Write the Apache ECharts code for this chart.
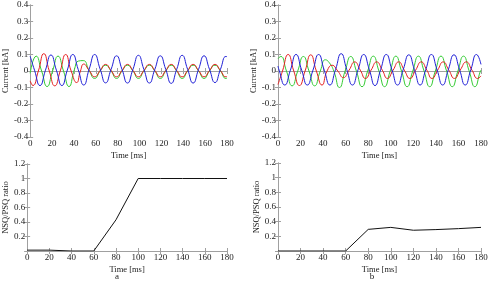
<!DOCTYPE html>
<html>
<head>
<meta charset="utf-8">
<script src="https://cdn.jsdelivr.net/npm/echarts@6/dist/echarts.min.js"></script>
<style>
html, body { margin: 0; padding: 0; background: #fff; }
#chart { width: 491px; height: 281px; }
</style>
</head>
<body>
<div id="chart"></div>
<script>
// phase currents [time ms, kA], case a
var blueA = [[0,0.09],[4,0.005],[9,-0.088],[14,0.005],[19,0.097],[24,0.005],[29,-0.088],[34,0.006],[39,0.1],[44,0.008],[49,-0.085],[54,0.012],[59,0.1],[64,0.012],[69,-0.072],[74,0.01],[79,0.092],[84,0.01],[89,-0.073],[94,0.01],[99,0.095],[104,0.01],[109,-0.073],[114,0.01],[119,0.092],[124,0.01],[129,-0.075],[134,0.01],[139,0.095],[144,0.01],[149,-0.073],[154,0.01],[159,0.092],[164,0.01],[169,-0.07],[174,0.01],[179,0.088],[180,0.087]];
var redA = [[0,-0.06],[2.5,-0.088],[7.5,0],[12.5,0.105],[17.5,0],[22.5,-0.09],[27.5,0],[32.5,0.1],[37.5,0],[42.5,-0.07],[46,0],[49,0.042],[54,0.003],[59,-0.035],[64,0.003],[69,0.04],[74,0.003],[79,-0.035],[84,0.003],[89,0.04],[94,0.003],[99,-0.035],[104,0.003],[109,0.04],[114,0.003],[119,-0.035],[124,0.003],[129,0.04],[134,0.003],[139,-0.035],[144,0.003],[149,0.04],[154,0.003],[159,-0.035],[164,0.003],[169,0.04],[174,0.003],[179,-0.035],[180,-0.034]];
var greenA = [[0,-0.014],[5.5,0.09],[10.5,0],[15.5,-0.094],[20.5,0],[25.5,0.09],[30.5,0],[35.5,-0.094],[40.5,0.01],[44,0.06],[48.5,0.063],[54,0.002],[59,-0.045],[64,0],[69,0.035],[74,0],[79,-0.045],[84,0],[89,0.035],[94,0],[99,-0.045],[104,0],[109,0.035],[114,0],[119,-0.045],[124,0],[129,0.035],[134,0],[139,-0.045],[144,0],[149,0.035],[154,0],[159,-0.045],[164,0],[169,0.035],[174,0],[179,-0.045],[180,-0.044]];

// case b
var blueB = [[0,0.03],[1,0.005],[6,-0.085],[11,0.005],[16,0.1],[21,0.005],[26,-0.085],[31,0.005],[36,0.1],[41,0.005],[46,-0.085],[51,0.008],[56,0.105],[61,0.008],[66,-0.085],[71,0.008],[76,0.1],[81,0.008],[86,-0.088],[91,0.008],[96,0.1],[101,0.008],[106,-0.085],[111,0.008],[116,0.098],[121,0.008],[126,-0.085],[131,0.008],[136,0.1],[141,0.008],[146,-0.085],[151,0.008],[156,0.098],[161,0.008],[166,-0.085],[171,0.008],[176,0.1],[180,0.04]];
var redB = [[0,-0.082],[4,0],[9,0.1],[14,0],[19,-0.088],[24,0],[29,0.098],[34,0],[39,-0.085],[43.5,0],[48,0.035],[53,0],[58,-0.04],[63,0.005],[68,0.055],[73,0.005],[77.5,-0.045],[82.5,0.005],[87.5,0.055],[92.5,0.005],[97,-0.045],[102,0.005],[107,0.055],[112,0.005],[117,-0.045],[122,0.005],[127,0.055],[132,0.005],[136.5,-0.045],[141.5,0.005],[146.5,0.055],[151.5,0.005],[156.5,-0.045],[161.5,0.005],[167,0.055],[172,0.005],[177,-0.045],[180,-0.03]];
var greenB = [[0,0.075],[2.5,0.088],[7.5,0],[12.5,-0.09],[17.5,0],[22.5,0.088],[27.5,0],[32.5,-0.09],[37.5,0],[42,0.068],[45.5,0.05],[49.5,0],[54.5,-0.1],[59.5,0],[64.5,0.088],[69.5,0],[74.5,-0.095],[79.5,0],[84.5,0.09],[89.5,0],[94.5,-0.095],[99.5,0],[104.5,0.09],[109.5,0],[114.5,-0.095],[119.5,0],[124.5,0.09],[129.5,0],[134.5,-0.095],[139.5,0],[144.5,0.09],[149.5,0],[154.5,-0.095],[159.5,0],[164.5,0.09],[169.5,0],[174.5,-0.095],[179.5,0],[180,0.005]];

// NSQ/PSQ ratio every 20 ms
var ratioTime = [0, 20, 40, 60, 80, 100, 120, 140, 160, 180];
var ratioA = [0.012, 0.012, 0, 0, 0.43, 1, 1, 1, 1, 1];
var ratioB = [0, 0, 0, 0, 0.295, 0.322, 0.283, 0.292, 0.305, 0.322];

var captions = ['a', 'b'];

var FONT = 'Liberation Serif';
var boxColor = '#a0a0a0';
var textColor = '#222';

var myChart = echarts.init(document.getElementById('chart'));

var grids = [
  {left: 25, top: 5, width: 202, height: 132},
  {left: 278, top: 5, width: 203, height: 132},
  {left: 25, top: 164, width: 202, height: 87},
  {left: 278, top: 163, width: 203, height: 88}
];

function fmtCurrent(v) {
  if (Math.abs(v) < 1e-9) return '0';
  return v.toFixed(1);
}
function fmtRatio(v) {
  if (Math.abs(v) < 1e-9) return '';
  if (Math.abs(v - 1) < 1e-9) return '1';
  return v.toFixed(1);
}

var xAxes = [], yAxes = [];
// each grid gets a bottom+top x axis and a left+right y axis (matlab box with ticks inside)
grids.forEach(function (g, i) {
  var top = i < 2;
  var baseX = {
    gridIndex: i, type: 'value', min: 0, max: 180, interval: 20,
    axisLine: {show: true, lineStyle: {color: boxColor, width: 1}},
    axisTick: {show: true, inside: true, length: 3, lineStyle: {color: boxColor}},
    splitLine: {show: false}
  };
  xAxes.push(Object.assign({}, baseX, {
    position: 'bottom',
    name: 'Time [ms]', nameLocation: 'middle', nameGap: 14,
    nameTextStyle: {fontFamily: FONT, fontSize: 8.5, color: textColor},
    axisLabel: {fontFamily: FONT, fontSize: 9, color: textColor, margin: 2}
  }));
  xAxes.push(Object.assign({}, baseX, {position: 'top', axisLabel: {show: false}}));

  var baseY = {
    gridIndex: i, type: 'value',
    min: top ? -0.4 : 0, max: top ? 0.4 : 1.2, interval: top ? 0.1 : 0.2,
    axisLine: {show: true, lineStyle: {color: boxColor, width: 1}},
    axisTick: {show: true, inside: true, length: 3, lineStyle: {color: boxColor}},
    splitLine: {show: false}
  };
  yAxes.push(Object.assign({}, baseY, {
    position: 'left',
    name: top ? 'Current [kA]' : 'NSQ/PSQ ratio', nameLocation: 'middle',
    nameGap: top ? 16 : 15, nameRotate: 90,
    nameTextStyle: {fontFamily: FONT, fontSize: 8.5, color: textColor},
    axisLabel: {fontFamily: FONT, fontSize: 9, color: textColor, margin: 2,
      formatter: top ? fmtCurrent : fmtRatio}
  }));
  yAxes.push(Object.assign({}, baseY, {position: 'right', axisLabel: {show: false}}));
});

function wave(data, color, gi) {
  return {
    type: 'line', data: data, xAxisIndex: gi * 2, yAxisIndex: gi * 2,
    showSymbol: false, smooth: 0.55, animation: false,
    lineStyle: {color: color, width: 1}
  };
}
function ratioLine(vals, gi) {
  return {
    type: 'line', xAxisIndex: gi * 2, yAxisIndex: gi * 2,
    data: ratioTime.map(function (t, k) { return [t, vals[k]]; }),
    showSymbol: false, animation: false,
    lineStyle: {color: '#111', width: 1}
  };
}

var option = {
  backgroundColor: '#fff',
  grid: grids,
  xAxis: xAxes,
  yAxis: yAxes,
  series: [
    wave(greenA, '#33cc33', 0),
    wave(redA, '#e62020', 0),
    wave(blueA, '#2020d8', 0),
    wave(greenB, '#33cc33', 1),
    wave(redB, '#e62020', 1),
    wave(blueB, '#2020d8', 1),
    ratioLine(ratioA, 2),
    ratioLine(ratioB, 3)
  ],
  graphic: [
    {type: 'text', x: 117, y: 272, style: {text: captions[0], font: '9px "Liberation Serif"', fill: textColor, textAlign: 'center'}},
    {type: 'text', x: 372, y: 272, style: {text: captions[1], font: '9px "Liberation Serif"', fill: textColor, textAlign: 'center'}}
  ]
};
myChart.setOption(option);
</script>
</body>
</html>
